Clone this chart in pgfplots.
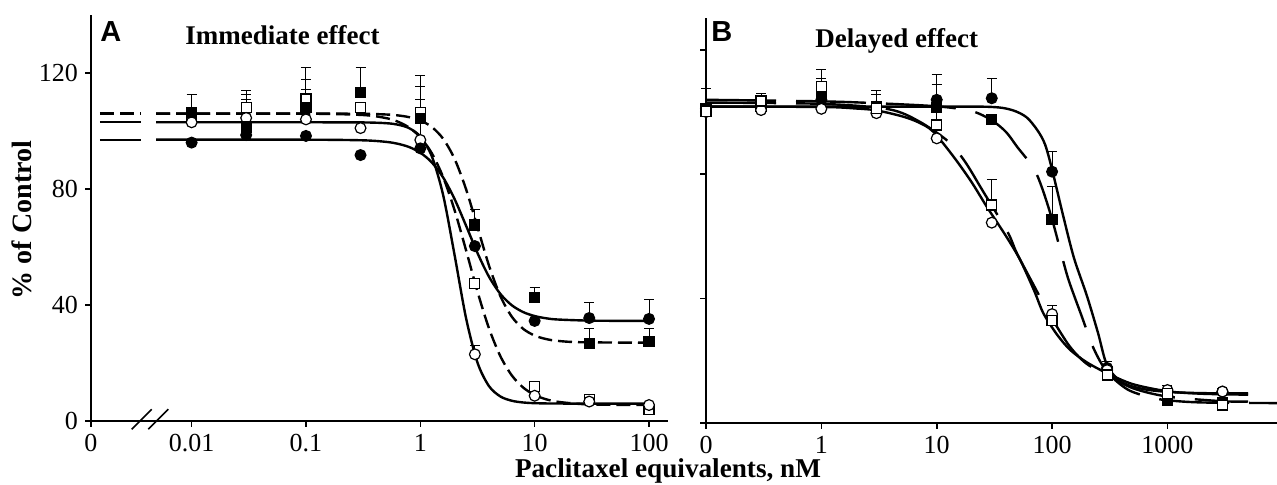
\documentclass[border=0pt]{standalone}
\usepackage{fontspec}
\setmainfont{Liberation Serif}
\newfontfamily\sansfam{Liberation Sans}
\usepackage{pgfplots}
\pgfplotsset{compat=1.18}
\pgfplotsset{
  curve/.style={black, line width=1.2pt, smooth, tension=0.5, mark=none},
  dsh/.style={dash pattern=on 7pt off 3pt},
  ldsh/.style={dash pattern=on 35pt off 10pt},
  fcm/.style={only marks, mark=*, mark size=2.7pt, mark options={solid, fill=black, draw=black, line width=0.6pt}},
  ocm/.style={only marks, mark=*, mark size=2.7pt, mark options={solid, fill=white, draw=black, line width=0.6pt}},
  fsm/.style={only marks, mark=square*, mark size=2.5pt, mark options={solid, fill=black, draw=black, line width=0.6pt}},
  osm/.style={only marks, mark=square*, mark size=2.5pt, mark options={solid, fill=white, draw=black, line width=0.6pt}},
  eb/.style={only marks, mark=none, forget plot, error bars/.cd, y dir=plus, y explicit,
    error bar style={line width=0.5pt, black},
    error mark options={rotate=90, mark size=2.5pt, line width=0.5pt, black}},
}
\begin{document}
\begin{tikzpicture}
\useasboundingbox (0,0) rectangle (638.5pt,242.5pt);
% ---------------- Panel A ----------------
\begin{axis}[xmode=log, scale only axis, axis lines=left, axis line style={-, line width=1pt},
  tick align=outside, major tick length=3pt, tick style={line width=0.8pt, black},
  ymin=0, clip=false, xminorticks=false, anchor=south west,
  ticklabel style={font=\fontsize{13}{13}\selectfont},
  at={(45.5pt,32pt)}, width=288.5pt, height=203pt,
  xmin=0.001318, xmax=146.6, ymax=140,
  xtick={0.001318,0.01,0.1,1,10,100}, xticklabels={0,0.01,0.1,1,10,100},
  ytick={0,40,80,120}, yticklabels={0,40,80,120}]
\addplot[curve, dsh] coordinates {(0.00158,106) (0.0036,106)};
\addplot[curve] coordinates {(0.00158,103) (0.0036,103)};
\addplot[curve] coordinates {(0.00158,96.9) (0.0036,96.9)};
\addplot[curve] coordinates {(0.0049,97) (0.1,97.0) (0.3162,96.78) (0.5012,96.25) (0.631,95.62) (0.7943,94.5) (1,92.52) (1.2589,89.19) (1.5849,83.95) (1.9953,76.5) (2.5119,67.35) (3.1623,57.92) (3.9811,49.79) (5.0119,43.82) (6.3096,39.91) (7.9433,37.55) (10,36.18) (12.589,35.42) (15.849,35.0) (31.62,34.6) (100,34.5)};
\addplot[curve, dsh] coordinates {(0.0049,106) (0.1,106) (0.3162,105.92) (0.5012,105.69) (0.631,105.39) (0.7943,104.79) (1,103.62) (1.2589,101.39) (1.5849,97.30) (1.9953,90.36) (2.5119,79.93) (3.1623,66.84) (3.9811,53.67) (5.0119,43.08) (6.3096,35.97) (7.9433,31.76) (10,29.46) (12.589,28.25) (15.849,27.63) (25.119,27.16) (100,27.0)};
\addplot[curve, dsh] coordinates {(0.0049,106) (0.1,105.97) (0.3162,105.5) (0.5012,104.45) (0.631,103.27) (0.7943,101.25) (1,97.85) (1.2589,92.36) (1.5849,84.06) (1.9953,72.65) (2.5119,58.87) (3.1623,44.61) (3.9811,32.0) (5.0119,22.35) (6.3096,15.72) (7.9433,11.52) (10,8.97) (12.589,7.48) (15.849,6.63) (25.119,5.86) (39.81,5.61) (100,5.5)};
\addplot[curve] coordinates {(0.0049,103) (0.1,103) (0.3162,102.95) (0.5012,102.69) (0.631,102.21) (0.7943,101.02) (1,98.08) (1.2589,91.33) (1.5849,77.85) (1.9953,57.16) (2.5119,35.47) (3.1623,20.13) (3.9811,12.06) (5.0119,8.46) (6.3096,6.98) (7.9433,6.38) (10,6.15) (15.849,6.02) (100,6)};
\addplot[eb] coordinates {(0.01,106.3) +- (0,6.4) (0.03,108) +- (0,6) (0.03,104.5) +- (0,6.5) (0.03,101.4) +- (0,11.3)
  (0.1,111) +- (0,10.8) (0.1,108) +- (0,9.6) (0.1,104) +- (0,10.4) (0.3,113.2) +- (0,8.8)
  (1,106.3) +- (0,13) (1,104.3) +- (0,11.2) (1,96.9) +- (0,14)
  (3,67.6) +- (0,5.2) (3,23) +- (0,3) (3,47.5) +- (0,1.8) (10,42.6) +- (0,3.4) (10,11.8) +- (0,1.3)
  (30,35.5) +- (0,5.5) (30,26.6) +- (0,5.4) (100,35.2) +- (0,6.8) (100,27.3) +- (0,4.7) (100,4.1) +- (0,1.9)};
\addplot[osm] coordinates {(0.01,105) (0.03,108) (0.1,111) (0.3,108) (1,106.3) (3,47.5) (10,11.8) (30,7.5) (100,4.1)};
\addplot[ocm] coordinates {(0.01,103) (0.03,104.5) (0.1,104) (0.3,101) (1,96.9) (3,23) (10,8.7) (30,6.7) (100,5.5)};
\addplot[fsm] coordinates {(0.01,106.3) (0.03,101.4) (0.1,108) (0.3,113.2) (1,104.3) (3,67.6) (10,42.6) (30,26.6) (100,27.3)};
\addplot[fcm] coordinates {(0.01,96) (0.03,98.6) (0.1,98.3) (0.3,91.7) (1,94) (3,60.3) (10,34.5) (30,35.5) (100,35.2)};
\end{axis}
\draw[line width=0.8pt] (65.85pt,27.85pt) -- (75.85pt,37.85pt);
\draw[line width=0.8pt] (74.15pt,27.85pt) -- (84.15pt,37.85pt);
% ---------------- Panel B ----------------
\begin{axis}[xmode=log, scale only axis, axis lines=left, axis line style={-, line width=1pt},
  tick align=outside, major tick length=3pt, tick style={line width=0.8pt, black},
  ymin=0, clip=false, xminorticks=false, anchor=south west,
  ticklabel style={font=\fontsize{13}{13}\selectfont},
  at={(353pt,31pt)}, width=285.5pt, height=202.5pt,
  xmin=0.1, xmax=8913, ymax=130.2,
  xtick={0.1,1,10,100,1000}, xticklabels={0,1,10,100,1000},
  ytick={0,40,80,120}, yticklabels={}]
\addplot[curve] coordinates {(0.1,101.7) (10,101.7) (30,101.6) (45,100.6) (60,98.3) (75,94) (87,89.5) (100,81.5) (125,66.5) (155,53) (200,41) (250,29) (300,18.5) (400,13.2) (600,11.0) (1000,10) (2000,9.6) (5000,9.5)};
\addplot[curve, ldsh] coordinates {(0.1,103.9) (1,103.4) (3,102.8) (10,101.8) (20,100.3) (30,97.3) (40,93.5) (50,88.7) (69,82) (82,75.5) (100,65.5) (120,54.5) (139,46) (180,34.5) (229,24) (300,16.4) (450,10.8) (700,8.3) (1000,7.3) (2000,6.6) (8900,6.4)};
\addplot[curve] coordinates {(0.1,101.7) (1,101.6) (2,101.1) (3,100.5) (5,98.6) (7,96.6) (9.3,93.7) (14,85.6) (20,77.5) (27.2,69.5) (40,60) (52.9,52.4) (70,42.5) (84,35.3) (110,28.5) (143.5,23.5) (200,19.5) (300,16) (500,12.5) (1000,10.2) (2000,9.4) (5000,9.1)};
\addplot[curve, ldsh] coordinates {(0.1,103) (1,102.6) (3.8,100.9) (7,97) (12.6,90.5) (17.6,84) (25,74.7) (41,61.5) (49.5,54.6) (70,44) (87,37.4) (100,33.5) (143,24.5) (200,19) (300,15.5) (500,11.2) (1000,8.5) (3000,7.0) (5000,6.9)};
\addplot[eb] coordinates {(0.1,100.1) +- (0,7.5) (0.3,103.5) +- (0,2.5)
  (1,108.1) +- (0,5.4) (1,106) +- (0,4.8) (1,103.9) +- (0,4.8)
  (3,101.2) +- (0,5.8) (3,99.6) +- (0,5.9) (10,103.9) +- (0,8) (10,95.8) +- (0,12.9)
  (30,104.4) +- (0,6.4) (30,70.1) +- (0,8.3) (100,80.8) +- (0,6.4) (100,65.3) +- (0,10.7) (100,33) +- (0,4.9)
  (300,17.7) +- (0,2) (1000,10.6) +- (0,1.6) (3000,10.1) +- (0,1.1)};
\addplot[fcm] coordinates {(0.1,101) (0.3,101.7) (1,103.9) (3,101.7) (10,103.9) (30,104.4) (100,80.8) (300,17.7) (1000,8.7) (3000,10.1)};
\addplot[fsm] coordinates {(0.1,101) (0.3,101.7) (1,106) (3,101.7) (10,101.5) (30,97.6) (100,65.3) (300,16.4) (1000,7.4) (3000,6.4)};
\addplot[ocm] coordinates {(0.1,100) (0.3,100.6) (1,101) (3,99.6) (10,91.5) (30,64.4) (100,35) (300,17) (1000,10.6) (3000,10.1)};
\addplot[osm] coordinates {(0.1,100.1) (0.3,103.5) (1,108.1) (3,101.2) (10,95.8) (30,70.1) (100,33) (300,15.4) (1000,9.5) (3000,5.8)};
\end{axis}
% ---------------- Texts ----------------
\node[anchor=base west, inner sep=0pt, font=\sansfam\bfseries\fontsize{14.5}{14.5}\selectfont] at (50pt,221.5pt) {A};
\node[anchor=base west, inner sep=0pt, font=\bfseries\fontsize{13.5}{13.5}\selectfont] at (92.5pt,220pt) {Immediate effect};
\node[anchor=base west, inner sep=0pt, font=\sansfam\bfseries\fontsize{14.5}{14.5}\selectfont] at (355.5pt,221.5pt) {B};
\node[anchor=base west, inner sep=0pt, font=\bfseries\fontsize{13.5}{13.5}\selectfont] at (407.5pt,218.5pt) {Delayed effect};
\node[anchor=base, inner sep=0pt, font=\bfseries\fontsize{13.6}{13.6}\selectfont] at (334pt,3.5pt) {Paclitaxel equivalents, nM};
\node[rotate=90, inner sep=0pt, font=\bfseries\fontsize{14}{14}\selectfont] at (11pt,132.5pt) {\% of Control};
\end{tikzpicture}
\end{document}
